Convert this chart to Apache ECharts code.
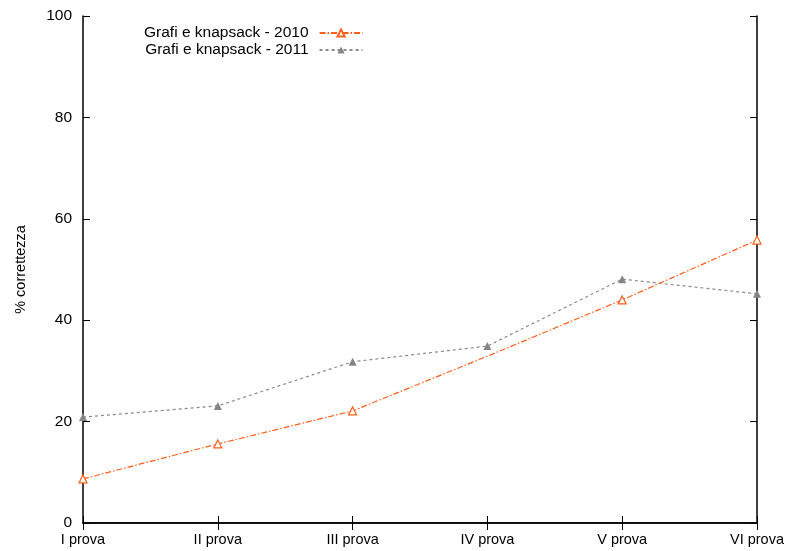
<!DOCTYPE html>
<html>
<head>
<meta charset="utf-8">
<script src="https://cdn.jsdelivr.net/npm/echarts@6/dist/echarts.min.js"></script>
<style>
  html, body { margin: 0; padding: 0; background: #fff; }
  #chart { width: 789px; height: 551px; }
</style>
</head>
<body>
<div id="chart"></div>
<script>
// Categories and series values
const categories = ['I prova', 'II prova', 'III prova', 'IV prova', 'V prova', 'VI prova'];
const values2010 = [8.7, 15.6, 22.1, 32.9, 44.0, 55.8];
const values2011 = [20.9, 23.1, 31.8, 34.9, 48.1, 45.2];
// points of the 2010 series drawn without a marker
const hidden2010 = [3];
const yTicks = [0, 20, 40, 60, 80, 100];

const FONT = 'Liberation Sans, Arial, Helvetica, sans-serif';

const chart = echarts.init(document.getElementById('chart'), null, { renderer: 'canvas' });

const data2010 = values2010.map((v, i) =>
  hidden2010.includes(i) ? { value: v, symbol: 'none' } : v);

const tickCommon = { show: true, inside: true, length: 7, lineStyle: { color: '#000', width: 1 } };

chart.setOption({
  animation: false,
  backgroundColor: '#fff',
  grid: { left: 83, right: 32, top: 16, bottom: 28, containLabel: false },
  legend: {
    orient: 'vertical',
    left: 139,
    top: 20,
    align: 'right',
    itemWidth: 43,
    itemHeight: 9,
    itemGap: 1,
    textStyle: { fontFamily: FONT, fontSize: 15.5, color: '#000', padding: [0, 6, 0, 0] },
    data: ['Grafi e knapsack - 2010', 'Grafi e knapsack - 2011']
  },
  xAxis: [
    {
      type: 'category',
      data: categories,
      boundaryGap: false,
      axisLine: { show: true, lineStyle: { color: '#000', width: 1.5 } },
      axisTick: tickCommon,
      axisLabel: { fontFamily: FONT, fontSize: 14.5, color: '#000', margin: 9, interval: 0 },
      splitLine: { show: false }
    },
    {
      type: 'category',
      data: categories,
      boundaryGap: false,
      position: 'top',
      axisLine: { show: true, lineStyle: { color: '#000', width: 1.5 } },
      axisTick: tickCommon,
      axisLabel: { show: false },
      splitLine: { show: false }
    }
  ],
  yAxis: [
    {
      type: 'value',
      min: 0, max: 100, interval: 20,
      name: '% correttezza',
      nameLocation: 'middle',
      nameGap: 55,
      nameTextStyle: { fontFamily: FONT, fontSize: 14.5, color: '#000' },
      axisLine: { show: true, lineStyle: { color: '#000', width: 1.5 } },
      axisTick: tickCommon,
      axisLabel: {
        fontFamily: FONT, fontSize: 15.5, color: '#000', margin: 11,
        formatter: v => yTicks.includes(v) ? String(v) : ''
      },
      splitLine: { show: false }
    },
    {
      type: 'value',
      min: 0, max: 100, interval: 20,
      position: 'right',
      axisLine: { show: true, lineStyle: { color: '#000', width: 1.5 } },
      axisTick: tickCommon,
      axisLabel: { show: false },
      splitLine: { show: false }
    }
  ],
  series: [
    {
      name: 'Grafi e knapsack - 2010',
      type: 'line',
      data: data2010,
      symbol: 'triangle',
      symbolSize: 8,
      showAllSymbol: true,
      itemStyle: { color: '#fff', borderColor: '#ff5f1a', borderWidth: 1.2 },
      lineStyle: { color: '#ff5f1a', width: 1.2, type: [6, 2, 1.5, 2] },
      z: 3
    },
    {
      name: 'Grafi e knapsack - 2011',
      type: 'line',
      data: values2011,
      symbol: 'triangle',
      symbolSize: 8,
      showAllSymbol: true,
      itemStyle: { color: '#858585', borderColor: '#858585', borderWidth: 0 },
      lineStyle: { color: '#8a8a8a', width: 1.2, type: [3, 3] },
      z: 2
    }
  ]
});
</script>
</body>
</html>
